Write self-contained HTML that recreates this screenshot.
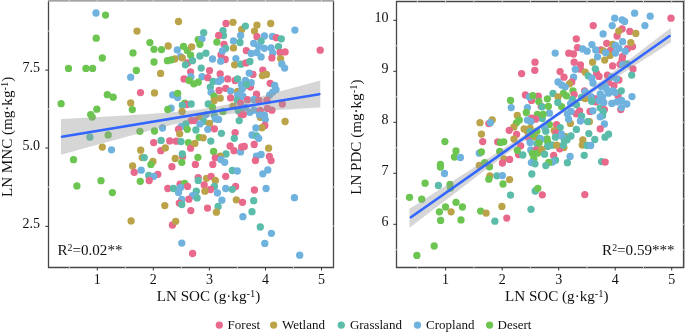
<!DOCTYPE html>
<html><head><meta charset="utf-8"><style>
html,body{margin:0;padding:0;background:#fff;}
body{width:685px;height:333px;overflow:hidden;font-family:"Liberation Serif",serif;}
svg{display:block;will-change:transform;}
</style></head><body>
<svg width="685" height="333" viewBox="0 0 685 333">
<rect width="685" height="333" fill="#fff"/>
<g>
<circle cx="243.8" cy="86.3" r="3.65" fill="#E8698C"/>
<circle cx="250.4" cy="87.1" r="3.65" fill="#E8698C"/>
<circle cx="252.9" cy="74.4" r="3.65" fill="#E8698C"/>
<circle cx="221.0" cy="55.0" r="3.65" fill="#E8698C"/>
<circle cx="96.0" cy="13.0" r="3.65" fill="#6FB2DE"/>
<circle cx="105.5" cy="15.1" r="3.65" fill="#6CC551"/>
<circle cx="137.0" cy="31.1" r="3.65" fill="#BBA34A"/>
<circle cx="96.2" cy="38.2" r="3.65" fill="#6CC551"/>
<circle cx="133.0" cy="52.9" r="3.65" fill="#6CC551"/>
<circle cx="102.3" cy="58.0" r="3.65" fill="#6CC551"/>
<circle cx="68.5" cy="68.4" r="3.65" fill="#6CC551"/>
<circle cx="85.9" cy="68.4" r="3.65" fill="#6CC551"/>
<circle cx="92.6" cy="68.4" r="3.65" fill="#6CC551"/>
<circle cx="136.3" cy="70.5" r="3.65" fill="#6CC551"/>
<circle cx="130.7" cy="77.2" r="3.65" fill="#6FB2DE"/>
<circle cx="140.5" cy="92.6" r="3.65" fill="#E8698C"/>
<circle cx="107.3" cy="94.7" r="3.65" fill="#6CC551"/>
<circle cx="113.2" cy="97.2" r="3.65" fill="#6CC551"/>
<circle cx="61.1" cy="103.7" r="3.65" fill="#6CC551"/>
<circle cx="130.7" cy="102.9" r="3.65" fill="#BBA34A"/>
<circle cx="96.8" cy="109.2" r="3.65" fill="#6CC551"/>
<circle cx="132.3" cy="109.6" r="3.65" fill="#6CC551"/>
<circle cx="90.7" cy="114.6" r="3.65" fill="#6CC551"/>
<circle cx="92.2" cy="117.1" r="3.65" fill="#6CC551"/>
<circle cx="89.9" cy="137.2" r="3.65" fill="#5BBCA9"/>
<circle cx="108.2" cy="134.9" r="3.65" fill="#6CC551"/>
<circle cx="139.9" cy="131.3" r="3.65" fill="#6CC551"/>
<circle cx="102.3" cy="147.1" r="3.65" fill="#BBA34A"/>
<circle cx="111.5" cy="149.8" r="3.65" fill="#6FB2DE"/>
<circle cx="73.5" cy="159.7" r="3.65" fill="#6CC551"/>
<circle cx="140.7" cy="150.2" r="3.65" fill="#BBA34A"/>
<circle cx="142.2" cy="157.6" r="3.65" fill="#BBA34A"/>
<circle cx="144.3" cy="157.6" r="3.65" fill="#5BBCA9"/>
<circle cx="132.6" cy="166.0" r="3.65" fill="#BBA34A"/>
<circle cx="134.2" cy="172.3" r="3.65" fill="#E8698C"/>
<circle cx="141.2" cy="170.2" r="3.65" fill="#6FB2DE"/>
<circle cx="101.0" cy="180.7" r="3.65" fill="#6CC551"/>
<circle cx="76.9" cy="185.9" r="3.65" fill="#6CC551"/>
<circle cx="140.3" cy="181.3" r="3.65" fill="#6CC551"/>
<circle cx="112.4" cy="192.6" r="3.65" fill="#6CC551"/>
<circle cx="131.1" cy="220.9" r="3.65" fill="#BBA34A"/>
<circle cx="178.5" cy="21.5" r="3.65" fill="#BBA34A"/>
<circle cx="149.9" cy="42.6" r="3.65" fill="#6CC551"/>
<circle cx="154.0" cy="49.3" r="3.65" fill="#6CC551"/>
<circle cx="161.5" cy="49.6" r="3.65" fill="#6CC551"/>
<circle cx="168.2" cy="46.0" r="3.65" fill="#BBA34A"/>
<circle cx="177.3" cy="49.9" r="3.65" fill="#6FB2DE"/>
<circle cx="183.5" cy="46.3" r="3.65" fill="#6CC551"/>
<circle cx="187.3" cy="50.4" r="3.65" fill="#6CC551"/>
<circle cx="191.7" cy="46.8" r="3.65" fill="#BBA34A"/>
<circle cx="180.6" cy="56.6" r="3.65" fill="#6FB2DE"/>
<circle cx="182.3" cy="57.9" r="3.65" fill="#BBA34A"/>
<circle cx="174.7" cy="59.0" r="3.65" fill="#BBA34A"/>
<circle cx="171.1" cy="59.9" r="3.65" fill="#6CC551"/>
<circle cx="167.4" cy="60.7" r="3.65" fill="#6CC551"/>
<circle cx="154.0" cy="62.0" r="3.65" fill="#6CC551"/>
<circle cx="187.6" cy="62.9" r="3.65" fill="#E8698C"/>
<circle cx="185.4" cy="64.8" r="3.65" fill="#5BBCA9"/>
<circle cx="190.6" cy="55.2" r="3.65" fill="#6CC551"/>
<circle cx="192.5" cy="60.7" r="3.65" fill="#5BBCA9"/>
<circle cx="160.6" cy="73.4" r="3.65" fill="#BBA34A"/>
<circle cx="190.6" cy="71.8" r="3.65" fill="#E8698C"/>
<circle cx="184.0" cy="78.9" r="3.65" fill="#E8698C"/>
<circle cx="190.9" cy="76.7" r="3.65" fill="#6FB2DE"/>
<circle cx="189.2" cy="80.5" r="3.65" fill="#6CC551"/>
<circle cx="154.5" cy="92.9" r="3.65" fill="#BBA34A"/>
<circle cx="172.7" cy="94.9" r="3.65" fill="#6FB2DE"/>
<circle cx="177.7" cy="97.5" r="3.65" fill="#6FB2DE"/>
<circle cx="177.7" cy="93.3" r="3.65" fill="#6CC551"/>
<circle cx="184.8" cy="103.2" r="3.65" fill="#6CC551"/>
<circle cx="186.8" cy="104.5" r="3.65" fill="#E8698C"/>
<circle cx="182.3" cy="105.2" r="3.65" fill="#5BBCA9"/>
<circle cx="191.2" cy="104.0" r="3.65" fill="#5BBCA9"/>
<circle cx="171.1" cy="108.2" r="3.65" fill="#6FB2DE"/>
<circle cx="167.8" cy="109.5" r="3.65" fill="#6CC551"/>
<circle cx="182.1" cy="111.5" r="3.65" fill="#BBA34A"/>
<circle cx="191.2" cy="120.6" r="3.65" fill="#E8698C"/>
<circle cx="154.5" cy="131.0" r="3.65" fill="#6CC551"/>
<circle cx="162.5" cy="128.0" r="3.65" fill="#6FB2DE"/>
<circle cx="181.3" cy="126.4" r="3.65" fill="#6FB2DE"/>
<circle cx="185.9" cy="123.9" r="3.65" fill="#5BBCA9"/>
<circle cx="178.5" cy="129.2" r="3.65" fill="#E8698C"/>
<circle cx="187.3" cy="129.3" r="3.65" fill="#6CC551"/>
<circle cx="179.7" cy="133.8" r="3.65" fill="#BBA34A"/>
<circle cx="153.7" cy="142.6" r="3.65" fill="#E8698C"/>
<circle cx="161.1" cy="140.4" r="3.65" fill="#5BBCA9"/>
<circle cx="169.7" cy="140.9" r="3.65" fill="#E8698C"/>
<circle cx="176.3" cy="141.2" r="3.65" fill="#E8698C"/>
<circle cx="181.0" cy="141.6" r="3.65" fill="#5BBCA9"/>
<circle cx="188.4" cy="142.6" r="3.65" fill="#6CC551"/>
<circle cx="190.6" cy="148.2" r="3.65" fill="#E8698C"/>
<circle cx="160.8" cy="150.7" r="3.65" fill="#E8698C"/>
<circle cx="165.3" cy="147.9" r="3.65" fill="#BBA34A"/>
<circle cx="152.9" cy="161.4" r="3.65" fill="#BBA34A"/>
<circle cx="150.9" cy="164.4" r="3.65" fill="#6CC551"/>
<circle cx="175.2" cy="158.5" r="3.65" fill="#BBA34A"/>
<circle cx="182.6" cy="156.5" r="3.65" fill="#E8698C"/>
<circle cx="182.3" cy="154.0" r="3.65" fill="#5BBCA9"/>
<circle cx="181.8" cy="162.3" r="3.65" fill="#6CC551"/>
<circle cx="171.9" cy="166.7" r="3.65" fill="#E8698C"/>
<circle cx="148.7" cy="175.5" r="3.65" fill="#5BBCA9"/>
<circle cx="157.8" cy="174.3" r="3.65" fill="#E8698C"/>
<circle cx="153.7" cy="176.3" r="3.65" fill="#6FB2DE"/>
<circle cx="149.2" cy="180.5" r="3.65" fill="#E8698C"/>
<circle cx="167.8" cy="188.5" r="3.65" fill="#E8698C"/>
<circle cx="173.5" cy="188.5" r="3.65" fill="#5BBCA9"/>
<circle cx="180.1" cy="184.2" r="3.65" fill="#E8698C"/>
<circle cx="184.6" cy="183.4" r="3.65" fill="#6CC551"/>
<circle cx="180.6" cy="187.5" r="3.65" fill="#6FB2DE"/>
<circle cx="187.6" cy="186.4" r="3.65" fill="#E8698C"/>
<circle cx="178.5" cy="192.4" r="3.65" fill="#6FB2DE"/>
<circle cx="192.5" cy="195.7" r="3.65" fill="#6FB2DE"/>
<circle cx="181.8" cy="199.5" r="3.65" fill="#6FB2DE"/>
<circle cx="188.9" cy="199.2" r="3.65" fill="#E8698C"/>
<circle cx="179.3" cy="203.1" r="3.65" fill="#E8698C"/>
<circle cx="181.8" cy="204.5" r="3.65" fill="#5BBCA9"/>
<circle cx="190.8" cy="210.6" r="3.65" fill="#E8698C"/>
<circle cx="164.8" cy="205.6" r="3.65" fill="#BBA34A"/>
<circle cx="172.4" cy="225.0" r="3.65" fill="#E8698C"/>
<circle cx="175.7" cy="221.3" r="3.65" fill="#BBA34A"/>
<circle cx="181.8" cy="243.1" r="3.65" fill="#6FB2DE"/>
<circle cx="192.6" cy="253.5" r="3.65" fill="#E8698C"/>
<circle cx="226.0" cy="23.5" r="3.65" fill="#E8698C"/>
<circle cx="233.0" cy="22.3" r="3.65" fill="#BBA34A"/>
<circle cx="203.7" cy="32.7" r="3.65" fill="#5BBCA9"/>
<circle cx="223.0" cy="30.6" r="3.65" fill="#5BBCA9"/>
<circle cx="223.5" cy="35.5" r="3.65" fill="#5BBCA9"/>
<circle cx="218.6" cy="35.5" r="3.65" fill="#E8698C"/>
<circle cx="241.7" cy="29.4" r="3.65" fill="#BBA34A"/>
<circle cx="240.6" cy="35.5" r="3.65" fill="#6FB2DE"/>
<circle cx="198.2" cy="39.7" r="3.65" fill="#6CC551"/>
<circle cx="202.0" cy="38.8" r="3.65" fill="#6FB2DE"/>
<circle cx="199.9" cy="44.3" r="3.65" fill="#6CC551"/>
<circle cx="216.9" cy="42.1" r="3.65" fill="#6CC551"/>
<circle cx="224.0" cy="44.3" r="3.65" fill="#E8698C"/>
<circle cx="233.5" cy="41.0" r="3.65" fill="#6FB2DE"/>
<circle cx="240.0" cy="42.5" r="3.65" fill="#5BBCA9"/>
<circle cx="225.7" cy="48.3" r="3.65" fill="#5BBCA9"/>
<circle cx="233.5" cy="47.9" r="3.65" fill="#BBA34A"/>
<circle cx="222.4" cy="50.9" r="3.65" fill="#6FB2DE"/>
<circle cx="205.9" cy="53.2" r="3.65" fill="#5BBCA9"/>
<circle cx="199.9" cy="56.0" r="3.65" fill="#5BBCA9"/>
<circle cx="212.5" cy="59.0" r="3.65" fill="#6FB2DE"/>
<circle cx="225.2" cy="59.5" r="3.65" fill="#E8698C"/>
<circle cx="220.7" cy="61.2" r="3.65" fill="#6FB2DE"/>
<circle cx="235.9" cy="58.6" r="3.65" fill="#6FB2DE"/>
<circle cx="234.6" cy="64.8" r="3.65" fill="#BBA34A"/>
<circle cx="240.9" cy="64.2" r="3.65" fill="#5BBCA9"/>
<circle cx="201.2" cy="68.1" r="3.65" fill="#5BBCA9"/>
<circle cx="209.5" cy="70.6" r="3.65" fill="#E8698C"/>
<circle cx="220.2" cy="73.9" r="3.65" fill="#E8698C"/>
<circle cx="202.0" cy="76.7" r="3.65" fill="#6FB2DE"/>
<circle cx="207.8" cy="77.7" r="3.65" fill="#E8698C"/>
<circle cx="193.8" cy="83.8" r="3.65" fill="#6CC551"/>
<circle cx="198.2" cy="82.2" r="3.65" fill="#6CC551"/>
<circle cx="213.1" cy="81.4" r="3.65" fill="#5BBCA9"/>
<circle cx="221.0" cy="79.7" r="3.65" fill="#6FB2DE"/>
<circle cx="218.6" cy="81.4" r="3.65" fill="#6FB2DE"/>
<circle cx="227.7" cy="78.9" r="3.65" fill="#E8698C"/>
<circle cx="235.1" cy="80.5" r="3.65" fill="#E8698C"/>
<circle cx="237.6" cy="78.9" r="3.65" fill="#5BBCA9"/>
<circle cx="241.5" cy="84.7" r="3.65" fill="#6FB2DE"/>
<circle cx="210.3" cy="87.1" r="3.65" fill="#5BBCA9"/>
<circle cx="211.1" cy="92.3" r="3.65" fill="#6FB2DE"/>
<circle cx="219.1" cy="90.4" r="3.65" fill="#E8698C"/>
<circle cx="225.7" cy="88.3" r="3.65" fill="#E8698C"/>
<circle cx="230.6" cy="91.1" r="3.65" fill="#6FB2DE"/>
<circle cx="237.6" cy="91.3" r="3.65" fill="#BBA34A"/>
<circle cx="237.6" cy="94.8" r="3.65" fill="#6FB2DE"/>
<circle cx="214.1" cy="96.2" r="3.65" fill="#6CC551"/>
<circle cx="220.2" cy="98.2" r="3.65" fill="#BBA34A"/>
<circle cx="230.6" cy="97.9" r="3.65" fill="#E8698C"/>
<circle cx="214.1" cy="100.7" r="3.65" fill="#BBA34A"/>
<circle cx="237.3" cy="100.2" r="3.65" fill="#5BBCA9"/>
<circle cx="240.6" cy="103.2" r="3.65" fill="#E8698C"/>
<circle cx="208.2" cy="104.0" r="3.65" fill="#5BBCA9"/>
<circle cx="212.5" cy="107.4" r="3.65" fill="#6CC551"/>
<circle cx="233.0" cy="106.2" r="3.65" fill="#BBA34A"/>
<circle cx="223.0" cy="111.5" r="3.65" fill="#6CC551"/>
<circle cx="238.4" cy="110.7" r="3.65" fill="#5BBCA9"/>
<circle cx="241.2" cy="114.5" r="3.65" fill="#E8698C"/>
<circle cx="205.9" cy="114.8" r="3.65" fill="#6FB2DE"/>
<circle cx="199.2" cy="116.4" r="3.65" fill="#BBA34A"/>
<circle cx="214.4" cy="115.6" r="3.65" fill="#5BBCA9"/>
<circle cx="215.3" cy="118.9" r="3.65" fill="#6FB2DE"/>
<circle cx="218.6" cy="119.4" r="3.65" fill="#6FB2DE"/>
<circle cx="194.6" cy="120.6" r="3.65" fill="#E8698C"/>
<circle cx="203.7" cy="121.4" r="3.65" fill="#5BBCA9"/>
<circle cx="199.9" cy="123.9" r="3.65" fill="#6FB2DE"/>
<circle cx="209.5" cy="123.4" r="3.65" fill="#BBA34A"/>
<circle cx="239.2" cy="120.6" r="3.65" fill="#5BBCA9"/>
<circle cx="195.9" cy="130.0" r="3.65" fill="#5BBCA9"/>
<circle cx="207.8" cy="129.3" r="3.65" fill="#6FB2DE"/>
<circle cx="214.4" cy="128.8" r="3.65" fill="#E8698C"/>
<circle cx="221.4" cy="133.3" r="3.65" fill="#5BBCA9"/>
<circle cx="235.1" cy="132.6" r="3.65" fill="#E8698C"/>
<circle cx="234.3" cy="138.3" r="3.65" fill="#5BBCA9"/>
<circle cx="199.2" cy="137.3" r="3.65" fill="#6CC551"/>
<circle cx="203.2" cy="137.8" r="3.65" fill="#BBA34A"/>
<circle cx="210.8" cy="141.1" r="3.65" fill="#5BBCA9"/>
<circle cx="194.9" cy="143.4" r="3.65" fill="#BBA34A"/>
<circle cx="230.1" cy="146.0" r="3.65" fill="#E8698C"/>
<circle cx="234.0" cy="150.7" r="3.65" fill="#E8698C"/>
<circle cx="240.6" cy="151.9" r="3.65" fill="#6FB2DE"/>
<circle cx="241.7" cy="146.9" r="3.65" fill="#E8698C"/>
<circle cx="213.6" cy="151.5" r="3.65" fill="#6CC551"/>
<circle cx="226.0" cy="154.0" r="3.65" fill="#5BBCA9"/>
<circle cx="220.2" cy="156.2" r="3.65" fill="#BBA34A"/>
<circle cx="215.3" cy="157.8" r="3.65" fill="#E8698C"/>
<circle cx="221.0" cy="159.5" r="3.65" fill="#6FB2DE"/>
<circle cx="224.7" cy="162.3" r="3.65" fill="#6FB2DE"/>
<circle cx="197.9" cy="157.3" r="3.65" fill="#6CC551"/>
<circle cx="195.4" cy="164.4" r="3.65" fill="#E8698C"/>
<circle cx="212.8" cy="164.4" r="3.65" fill="#E8698C"/>
<circle cx="232.3" cy="170.5" r="3.65" fill="#5BBCA9"/>
<circle cx="237.3" cy="171.0" r="3.65" fill="#6FB2DE"/>
<circle cx="225.7" cy="176.3" r="3.65" fill="#E8698C"/>
<circle cx="198.2" cy="177.6" r="3.65" fill="#E8698C"/>
<circle cx="198.2" cy="180.4" r="3.65" fill="#5BBCA9"/>
<circle cx="206.5" cy="178.3" r="3.65" fill="#BBA34A"/>
<circle cx="211.1" cy="176.3" r="3.65" fill="#E8698C"/>
<circle cx="215.3" cy="180.4" r="3.65" fill="#BBA34A"/>
<circle cx="204.2" cy="184.9" r="3.65" fill="#E8698C"/>
<circle cx="214.4" cy="186.4" r="3.65" fill="#5BBCA9"/>
<circle cx="210.5" cy="189.5" r="3.65" fill="#E8698C"/>
<circle cx="225.7" cy="188.5" r="3.65" fill="#6FB2DE"/>
<circle cx="235.6" cy="186.5" r="3.65" fill="#E8698C"/>
<circle cx="232.3" cy="189.3" r="3.65" fill="#5BBCA9"/>
<circle cx="204.9" cy="191.2" r="3.65" fill="#BBA34A"/>
<circle cx="217.4" cy="192.9" r="3.65" fill="#6FB2DE"/>
<circle cx="196.3" cy="191.2" r="3.65" fill="#5BBCA9"/>
<circle cx="194.9" cy="195.7" r="3.65" fill="#6FB2DE"/>
<circle cx="197.1" cy="197.9" r="3.65" fill="#5BBCA9"/>
<circle cx="221.9" cy="200.2" r="3.65" fill="#6FB2DE"/>
<circle cx="236.3" cy="199.8" r="3.65" fill="#BBA34A"/>
<circle cx="242.5" cy="202.3" r="3.65" fill="#E8698C"/>
<circle cx="218.1" cy="206.4" r="3.65" fill="#5BBCA9"/>
<circle cx="207.5" cy="208.1" r="3.65" fill="#E8698C"/>
<circle cx="216.4" cy="212.2" r="3.65" fill="#BBA34A"/>
<circle cx="242.9" cy="216.7" r="3.65" fill="#6FB2DE"/>
<circle cx="245.4" cy="26.1" r="3.65" fill="#5BBCA9"/>
<circle cx="257.0" cy="25.1" r="3.65" fill="#BBA34A"/>
<circle cx="254.5" cy="31.1" r="3.65" fill="#BBA34A"/>
<circle cx="270.7" cy="23.5" r="3.65" fill="#BBA34A"/>
<circle cx="257.0" cy="36.7" r="3.65" fill="#E8698C"/>
<circle cx="264.4" cy="36.0" r="3.65" fill="#6FB2DE"/>
<circle cx="272.4" cy="36.4" r="3.65" fill="#6FB2DE"/>
<circle cx="276.3" cy="37.7" r="3.65" fill="#E8698C"/>
<circle cx="281.3" cy="38.8" r="3.65" fill="#5BBCA9"/>
<circle cx="261.1" cy="41.3" r="3.65" fill="#5BBCA9"/>
<circle cx="253.7" cy="43.3" r="3.65" fill="#6FB2DE"/>
<circle cx="258.7" cy="46.3" r="3.65" fill="#6FB2DE"/>
<circle cx="264.4" cy="48.3" r="3.65" fill="#6FB2DE"/>
<circle cx="271.1" cy="47.9" r="3.65" fill="#6FB2DE"/>
<circle cx="278.5" cy="46.6" r="3.65" fill="#5BBCA9"/>
<circle cx="246.3" cy="50.6" r="3.65" fill="#E8698C"/>
<circle cx="251.2" cy="53.4" r="3.65" fill="#6FB2DE"/>
<circle cx="257.0" cy="52.5" r="3.65" fill="#6FB2DE"/>
<circle cx="272.7" cy="53.0" r="3.65" fill="#6FB2DE"/>
<circle cx="280.1" cy="52.5" r="3.65" fill="#E8698C"/>
<circle cx="285.1" cy="51.9" r="3.65" fill="#E8698C"/>
<circle cx="261.1" cy="56.9" r="3.65" fill="#6FB2DE"/>
<circle cx="271.9" cy="57.9" r="3.65" fill="#E8698C"/>
<circle cx="280.6" cy="58.6" r="3.65" fill="#BBA34A"/>
<circle cx="281.8" cy="64.0" r="3.65" fill="#6FB2DE"/>
<circle cx="284.6" cy="68.1" r="3.65" fill="#6FB2DE"/>
<circle cx="245.9" cy="62.9" r="3.65" fill="#E8698C"/>
<circle cx="249.9" cy="61.5" r="3.65" fill="#5BBCA9"/>
<circle cx="262.8" cy="70.1" r="3.65" fill="#E8698C"/>
<circle cx="262.5" cy="75.6" r="3.65" fill="#BBA34A"/>
<circle cx="266.4" cy="74.4" r="3.65" fill="#BBA34A"/>
<circle cx="249.2" cy="73.1" r="3.65" fill="#6FB2DE"/>
<circle cx="245.4" cy="80.5" r="3.65" fill="#6FB2DE"/>
<circle cx="251.2" cy="82.7" r="3.65" fill="#6FB2DE"/>
<circle cx="246.3" cy="84.7" r="3.65" fill="#5BBCA9"/>
<circle cx="242.1" cy="89.3" r="3.65" fill="#6FB2DE"/>
<circle cx="270.2" cy="83.3" r="3.65" fill="#E8698C"/>
<circle cx="274.7" cy="85.5" r="3.65" fill="#6FB2DE"/>
<circle cx="276.0" cy="89.6" r="3.65" fill="#6FB2DE"/>
<circle cx="272.7" cy="92.1" r="3.65" fill="#6FB2DE"/>
<circle cx="269.6" cy="95.1" r="3.65" fill="#6FB2DE"/>
<circle cx="256.5" cy="94.2" r="3.65" fill="#E8698C"/>
<circle cx="243.0" cy="96.4" r="3.65" fill="#6FB2DE"/>
<circle cx="247.5" cy="99.7" r="3.65" fill="#E8698C"/>
<circle cx="254.0" cy="99.5" r="3.65" fill="#6FB2DE"/>
<circle cx="259.0" cy="100.5" r="3.65" fill="#E8698C"/>
<circle cx="266.9" cy="100.2" r="3.65" fill="#E8698C"/>
<circle cx="282.3" cy="104.0" r="3.65" fill="#E8698C"/>
<circle cx="239.7" cy="109.8" r="3.65" fill="#5BBCA9"/>
<circle cx="245.4" cy="107.4" r="3.65" fill="#6FB2DE"/>
<circle cx="249.9" cy="112.3" r="3.65" fill="#6FB2DE"/>
<circle cx="254.2" cy="110.2" r="3.65" fill="#6FB2DE"/>
<circle cx="260.3" cy="110.7" r="3.65" fill="#E8698C"/>
<circle cx="267.4" cy="108.5" r="3.65" fill="#E8698C"/>
<circle cx="271.9" cy="110.2" r="3.65" fill="#E8698C"/>
<circle cx="243.3" cy="114.5" r="3.65" fill="#E8698C"/>
<circle cx="260.3" cy="117.3" r="3.65" fill="#BBA34A"/>
<circle cx="259.5" cy="114.8" r="3.65" fill="#6FB2DE"/>
<circle cx="264.4" cy="115.1" r="3.65" fill="#6FB2DE"/>
<circle cx="265.3" cy="119.4" r="3.65" fill="#6FB2DE"/>
<circle cx="285.1" cy="121.5" r="3.65" fill="#BBA34A"/>
<circle cx="264.8" cy="125.5" r="3.65" fill="#E8698C"/>
<circle cx="262.0" cy="127.7" r="3.65" fill="#BBA34A"/>
<circle cx="255.9" cy="128.0" r="3.65" fill="#6FB2DE"/>
<circle cx="252.0" cy="135.0" r="3.65" fill="#6FB2DE"/>
<circle cx="256.5" cy="136.0" r="3.65" fill="#5BBCA9"/>
<circle cx="258.7" cy="138.3" r="3.65" fill="#6FB2DE"/>
<circle cx="254.2" cy="144.5" r="3.65" fill="#E8698C"/>
<circle cx="244.3" cy="146.5" r="3.65" fill="#E8698C"/>
<circle cx="268.6" cy="148.2" r="3.65" fill="#BBA34A"/>
<circle cx="256.5" cy="156.2" r="3.65" fill="#6FB2DE"/>
<circle cx="261.1" cy="154.5" r="3.65" fill="#6FB2DE"/>
<circle cx="255.4" cy="160.6" r="3.65" fill="#E8698C"/>
<circle cx="269.4" cy="156.5" r="3.65" fill="#E8698C"/>
<circle cx="271.1" cy="160.6" r="3.65" fill="#E8698C"/>
<circle cx="262.8" cy="173.8" r="3.65" fill="#6FB2DE"/>
<circle cx="267.8" cy="170.0" r="3.65" fill="#6FB2DE"/>
<circle cx="254.4" cy="190.0" r="3.65" fill="#E8698C"/>
<circle cx="266.1" cy="188.5" r="3.65" fill="#6FB2DE"/>
<circle cx="253.7" cy="200.7" r="3.65" fill="#5BBCA9"/>
<circle cx="252.0" cy="211.7" r="3.65" fill="#5BBCA9"/>
<circle cx="260.3" cy="227.0" r="3.65" fill="#5BBCA9"/>
<circle cx="271.4" cy="233.3" r="3.65" fill="#6FB2DE"/>
<circle cx="264.8" cy="243.4" r="3.65" fill="#6FB2DE"/>
<circle cx="294.9" cy="30.1" r="3.65" fill="#6FB2DE"/>
<circle cx="320.2" cy="50.2" r="3.65" fill="#E8698C"/>
<circle cx="294.4" cy="197.7" r="3.65" fill="#6FB2DE"/>
<circle cx="299.7" cy="255.2" r="3.65" fill="#6FB2DE"/>
<path d="M61.00,119.05 L67.48,118.70 L73.97,118.35 L80.45,118.00 L86.93,117.64 L93.41,117.28 L99.90,116.92 L106.38,116.55 L112.86,116.18 L119.34,115.80 L125.83,115.42 L132.31,115.02 L138.79,114.61 L145.27,114.19 L151.75,113.75 L158.24,113.29 L164.72,112.81 L171.20,112.29 L177.69,111.72 L184.17,111.10 L190.65,110.41 L197.13,109.63 L203.62,108.74 L210.10,107.73 L216.58,106.60 L223.06,105.35 L229.55,103.99 L236.03,102.55 L242.51,101.03 L248.99,99.45 L255.47,97.83 L261.96,96.17 L268.44,94.49 L274.92,92.78 L281.41,91.06 L287.89,89.32 L294.37,87.57 L300.85,85.82 L307.33,84.05 L313.82,82.28 L320.30,80.50 L320.30,107.50 L313.82,107.87 L307.33,108.24 L300.85,108.62 L294.37,109.01 L287.89,109.40 L281.41,109.81 L274.92,110.23 L268.44,110.67 L261.96,111.13 L255.47,111.62 L248.99,112.15 L242.51,112.71 L236.03,113.34 L229.55,114.04 L223.06,114.82 L216.58,115.72 L210.10,116.73 L203.62,117.87 L197.13,119.13 L190.65,120.49 L184.17,121.94 L177.69,123.47 L171.20,125.05 L164.72,126.67 L158.24,128.33 L151.75,130.02 L145.27,131.72 L138.79,133.45 L132.31,135.19 L125.83,136.93 L119.34,138.69 L112.86,140.46 L106.38,142.23 L99.90,144.01 L93.41,145.79 L86.93,147.58 L80.45,149.37 L73.97,151.16 L67.48,152.95 L61.00,154.75 Z" fill="#999" fill-opacity="0.4"/>
<line x1="62" y1="136.73" x2="319.3" y2="94.17" stroke="#3366FF" stroke-width="2.6" stroke-linecap="round"/>
<path d="M48.5,1 V267.5 H333.5 V1" fill="none" stroke="#474747" stroke-width="1.3"/>
<rect x="48" y="0" width="286" height="1.7" fill="#a4a4a4"/>
<rect x="68.8" y="0" width="1" height="1.7" fill="#d8d8d8"/>
<rect x="96.8" y="0" width="1" height="1.7" fill="#d8d8d8"/>
<rect x="124.8" y="0" width="1" height="1.7" fill="#d8d8d8"/>
<rect x="152.8" y="0" width="1" height="1.7" fill="#d8d8d8"/>
<rect x="180.9" y="0" width="1" height="1.7" fill="#d8d8d8"/>
<rect x="208.9" y="0" width="1" height="1.7" fill="#d8d8d8"/>
<rect x="236.9" y="0" width="1" height="1.7" fill="#d8d8d8"/>
<rect x="265.0" y="0" width="1" height="1.7" fill="#d8d8d8"/>
<rect x="293.0" y="0" width="1" height="1.7" fill="#d8d8d8"/>
<rect x="321.0" y="0" width="1" height="1.7" fill="#d8d8d8"/>
<line x1="45.3" y1="70.1" x2="48.5" y2="70.1" stroke="#333" stroke-width="1"/>
<text x="40" y="71.8" text-anchor="end" font-size="14" style="font-family:'Liberation Serif',serif" fill="#111">7.5</text>
<line x1="45.3" y1="148" x2="48.5" y2="148" stroke="#333" stroke-width="1"/>
<text x="40" y="149.7" text-anchor="end" font-size="14" style="font-family:'Liberation Serif',serif" fill="#111">5.0</text>
<line x1="45.3" y1="226.4" x2="48.5" y2="226.4" stroke="#333" stroke-width="1"/>
<text x="40" y="228.1" text-anchor="end" font-size="14" style="font-family:'Liberation Serif',serif" fill="#111">2.5</text>
<line x1="97.3" y1="267.5" x2="97.3" y2="270.5" stroke="#333" stroke-width="1"/>
<text x="97.3" y="283.5" text-anchor="middle" font-size="14" style="font-family:'Liberation Serif',serif" fill="#111">1</text>
<line x1="153.3" y1="267.5" x2="153.3" y2="270.5" stroke="#333" stroke-width="1"/>
<text x="153.3" y="283.5" text-anchor="middle" font-size="14" style="font-family:'Liberation Serif',serif" fill="#111">2</text>
<line x1="209.4" y1="267.5" x2="209.4" y2="270.5" stroke="#333" stroke-width="1"/>
<text x="209.4" y="283.5" text-anchor="middle" font-size="14" style="font-family:'Liberation Serif',serif" fill="#111">3</text>
<line x1="265.5" y1="267.5" x2="265.5" y2="270.5" stroke="#333" stroke-width="1"/>
<text x="265.5" y="283.5" text-anchor="middle" font-size="14" style="font-family:'Liberation Serif',serif" fill="#111">4</text>
<line x1="321.5" y1="267.5" x2="321.5" y2="270.5" stroke="#333" stroke-width="1"/>
<text x="321.5" y="283.5" text-anchor="middle" font-size="14" style="font-family:'Liberation Serif',serif" fill="#111">5</text>
<text x="208.5" y="300.7" text-anchor="middle" font-size="15.1" style="font-family:'Liberation Serif',serif" fill="#111">LN SOC (g·kg<tspan font-size="10.5" dy="-4.2">-1</tspan><tspan dy="4.2">)</tspan></text>
<text transform="translate(12,136.9) rotate(-90)" text-anchor="middle" font-size="15.1" style="font-family:'Liberation Serif',serif" fill="#111">LN MNC (mg·kg<tspan font-size="10.5" dy="-4.2">-1</tspan><tspan dy="4.2">)</tspan></text>
<text x="57.5" y="254.9" font-size="15.1" style="font-family:'Liberation Serif',serif" fill="#111">R<tspan font-size="9.8" dy="-4">2</tspan><tspan dy="4">=0.02**</tspan></text>
</g>
<g>
<circle cx="497.7" cy="141.8" r="3.65" fill="#E8698C"/>
<circle cx="518.6" cy="154.6" r="3.65" fill="#E8698C"/>
<circle cx="563.9" cy="147.6" r="3.65" fill="#BBA34A"/>
<circle cx="559.7" cy="148.8" r="3.65" fill="#E8698C"/>
<circle cx="565.5" cy="136.6" r="3.65" fill="#BBA34A"/>
<circle cx="570.4" cy="123.4" r="3.65" fill="#BBA34A"/>
<circle cx="589.4" cy="121.6" r="3.65" fill="#BBA34A"/>
<circle cx="527.5" cy="131.5" r="3.65" fill="#BBA34A"/>
<circle cx="528.5" cy="137.5" r="3.65" fill="#E8698C"/>
<circle cx="596.6" cy="73.4" r="3.65" fill="#E8698C"/>
<circle cx="632.5" cy="46.6" r="3.65" fill="#E8698C"/>
<circle cx="617.1" cy="36.0" r="3.65" fill="#E8698C"/>
<circle cx="606.7" cy="43.3" r="3.65" fill="#E8698C"/>
<circle cx="601.0" cy="49.9" r="3.65" fill="#E8698C"/>
<circle cx="610.5" cy="50.3" r="3.65" fill="#E8698C"/>
<circle cx="627.5" cy="48.7" r="3.65" fill="#E8698C"/>
<circle cx="622.6" cy="56.4" r="3.65" fill="#E8698C"/>
<circle cx="622.1" cy="59.6" r="3.65" fill="#E8698C"/>
<circle cx="612.6" cy="65.9" r="3.65" fill="#E8698C"/>
<circle cx="620.0" cy="64.3" r="3.65" fill="#E8698C"/>
<circle cx="633.0" cy="69.0" r="3.65" fill="#E8698C"/>
<circle cx="580.4" cy="69.2" r="3.65" fill="#E8698C"/>
<circle cx="599.0" cy="76.4" r="3.65" fill="#E8698C"/>
<circle cx="607.4" cy="75.2" r="3.65" fill="#E8698C"/>
<circle cx="618.9" cy="80.0" r="3.65" fill="#E8698C"/>
<circle cx="608.6" cy="82.4" r="3.65" fill="#E8698C"/>
<circle cx="614.0" cy="85.4" r="3.65" fill="#E8698C"/>
<circle cx="584.6" cy="90.8" r="3.65" fill="#E8698C"/>
<circle cx="594.8" cy="98.6" r="3.65" fill="#E8698C"/>
<circle cx="618.0" cy="95.5" r="3.65" fill="#E8698C"/>
<circle cx="538.3" cy="96.2" r="3.65" fill="#E8698C"/>
<circle cx="541.2" cy="106.3" r="3.65" fill="#E8698C"/>
<circle cx="531.5" cy="100.4" r="3.65" fill="#E8698C"/>
<circle cx="634.6" cy="13.2" r="3.65" fill="#6FB2DE"/>
<circle cx="650.2" cy="16.2" r="3.65" fill="#6FB2DE"/>
<circle cx="671.0" cy="18.2" r="3.65" fill="#E8698C"/>
<circle cx="644.9" cy="25.6" r="3.65" fill="#6FB2DE"/>
<circle cx="629.8" cy="31.4" r="3.65" fill="#E8698C"/>
<circle cx="635.8" cy="33.4" r="3.65" fill="#BBA34A"/>
<circle cx="630.8" cy="42.6" r="3.65" fill="#BBA34A"/>
<circle cx="614.7" cy="18.2" r="3.65" fill="#6FB2DE"/>
<circle cx="622.1" cy="19.8" r="3.65" fill="#6FB2DE"/>
<circle cx="624.6" cy="21.5" r="3.65" fill="#6FB2DE"/>
<circle cx="612.2" cy="25.6" r="3.65" fill="#6FB2DE"/>
<circle cx="593.2" cy="25.6" r="3.65" fill="#E8698C"/>
<circle cx="622.1" cy="28.9" r="3.65" fill="#E8698C"/>
<circle cx="618.8" cy="31.1" r="3.65" fill="#BBA34A"/>
<circle cx="603.1" cy="33.9" r="3.65" fill="#6FB2DE"/>
<circle cx="576.3" cy="38.8" r="3.65" fill="#E8698C"/>
<circle cx="612.7" cy="44.3" r="3.65" fill="#BBA34A"/>
<circle cx="577.5" cy="47.6" r="3.65" fill="#E8698C"/>
<circle cx="582.7" cy="48.9" r="3.65" fill="#6FB2DE"/>
<circle cx="603.5" cy="50.8" r="3.65" fill="#BBA34A"/>
<circle cx="555.2" cy="53.1" r="3.65" fill="#6FB2DE"/>
<circle cx="568.8" cy="53.2" r="3.65" fill="#E8698C"/>
<circle cx="573.5" cy="54.0" r="3.65" fill="#E8698C"/>
<circle cx="610.0" cy="55.4" r="3.65" fill="#BBA34A"/>
<circle cx="604.7" cy="60.1" r="3.65" fill="#BBA34A"/>
<circle cx="627.3" cy="63.8" r="3.65" fill="#5BBCA9"/>
<circle cx="631.7" cy="75.1" r="3.65" fill="#5BBCA9"/>
<circle cx="592.6" cy="62.2" r="3.65" fill="#BBA34A"/>
<circle cx="574.2" cy="62.2" r="3.65" fill="#E8698C"/>
<circle cx="580.5" cy="64.8" r="3.65" fill="#E8698C"/>
<circle cx="575.3" cy="69.3" r="3.65" fill="#6FB2DE"/>
<circle cx="560.1" cy="71.6" r="3.65" fill="#E8698C"/>
<circle cx="535.0" cy="62.2" r="3.65" fill="#E8698C"/>
<circle cx="534.8" cy="70.3" r="3.65" fill="#E8698C"/>
<circle cx="521.6" cy="73.6" r="3.65" fill="#E8698C"/>
<circle cx="564.0" cy="77.2" r="3.65" fill="#E8698C"/>
<circle cx="573.6" cy="77.2" r="3.65" fill="#6FB2DE"/>
<circle cx="571.8" cy="82.0" r="3.65" fill="#E8698C"/>
<circle cx="569.4" cy="83.8" r="3.65" fill="#BBA34A"/>
<circle cx="558.0" cy="82.0" r="3.65" fill="#6FB2DE"/>
<circle cx="561.6" cy="85.0" r="3.65" fill="#6FB2DE"/>
<circle cx="565.2" cy="86.8" r="3.65" fill="#6FB2DE"/>
<circle cx="573.0" cy="91.0" r="3.65" fill="#6CC551"/>
<circle cx="574.2" cy="94.6" r="3.65" fill="#E8698C"/>
<circle cx="553.0" cy="93.4" r="3.65" fill="#5BBCA9"/>
<circle cx="563.4" cy="93.4" r="3.65" fill="#6CC551"/>
<circle cx="566.4" cy="95.8" r="3.65" fill="#6CC551"/>
<circle cx="558.0" cy="97.0" r="3.65" fill="#BBA34A"/>
<circle cx="547.4" cy="98.8" r="3.65" fill="#6CC551"/>
<circle cx="572.4" cy="99.4" r="3.65" fill="#5BBCA9"/>
<circle cx="632.0" cy="96.6" r="3.65" fill="#6FB2DE"/>
<circle cx="525.4" cy="95.0" r="3.65" fill="#E8698C"/>
<circle cx="529.5" cy="97.0" r="3.65" fill="#6FB2DE"/>
<circle cx="532.8" cy="95.7" r="3.65" fill="#6CC551"/>
<circle cx="510.5" cy="100.4" r="3.65" fill="#6CC551"/>
<circle cx="620.8" cy="109.5" r="3.65" fill="#E8698C"/>
<circle cx="611.8" cy="103.4" r="3.65" fill="#6FB2DE"/>
<circle cx="616.8" cy="101.8" r="3.65" fill="#6FB2DE"/>
<circle cx="621.6" cy="100.4" r="3.65" fill="#6FB2DE"/>
<circle cx="626.8" cy="104.0" r="3.65" fill="#6FB2DE"/>
<circle cx="621.4" cy="107.6" r="3.65" fill="#6FB2DE"/>
<circle cx="570.6" cy="103.6" r="3.65" fill="#6FB2DE"/>
<circle cx="561.6" cy="106.6" r="3.65" fill="#6CC551"/>
<circle cx="576.5" cy="104.8" r="3.65" fill="#5BBCA9"/>
<circle cx="579.6" cy="111.0" r="3.65" fill="#E8698C"/>
<circle cx="576.2" cy="113.8" r="3.65" fill="#E8698C"/>
<circle cx="590.0" cy="111.4" r="3.65" fill="#E8698C"/>
<circle cx="593.0" cy="110.8" r="3.65" fill="#6FB2DE"/>
<circle cx="600.2" cy="107.8" r="3.65" fill="#5BBCA9"/>
<circle cx="604.4" cy="109.6" r="3.65" fill="#E8698C"/>
<circle cx="603.2" cy="111.4" r="3.65" fill="#5BBCA9"/>
<circle cx="602.6" cy="115.6" r="3.65" fill="#5BBCA9"/>
<circle cx="600.2" cy="116.8" r="3.65" fill="#6FB2DE"/>
<circle cx="581.6" cy="116.2" r="3.65" fill="#5BBCA9"/>
<circle cx="580.4" cy="121.0" r="3.65" fill="#6FB2DE"/>
<circle cx="587.6" cy="121.6" r="3.65" fill="#5BBCA9"/>
<circle cx="604.4" cy="124.0" r="3.65" fill="#6FB2DE"/>
<circle cx="600.2" cy="128.8" r="3.65" fill="#E8698C"/>
<circle cx="576.4" cy="129.4" r="3.65" fill="#5BBCA9"/>
<circle cx="588.8" cy="133.6" r="3.65" fill="#5BBCA9"/>
<circle cx="608.6" cy="134.2" r="3.65" fill="#5BBCA9"/>
<circle cx="605.0" cy="137.2" r="3.65" fill="#5BBCA9"/>
<circle cx="594.8" cy="139.5" r="3.65" fill="#5BBCA9"/>
<circle cx="582.8" cy="140.0" r="3.65" fill="#BBA34A"/>
<circle cx="603.8" cy="102.4" r="3.65" fill="#6FB2DE"/>
<circle cx="591.8" cy="101.2" r="3.65" fill="#5BBCA9"/>
<circle cx="596.0" cy="101.8" r="3.65" fill="#E8698C"/>
<circle cx="557.8" cy="102.4" r="3.65" fill="#5BBCA9"/>
<circle cx="537.4" cy="114.4" r="3.65" fill="#6CC551"/>
<circle cx="549.4" cy="113.2" r="3.65" fill="#6FB2DE"/>
<circle cx="542.2" cy="118.6" r="3.65" fill="#5BBCA9"/>
<circle cx="535.6" cy="119.2" r="3.65" fill="#E8698C"/>
<circle cx="567.4" cy="113.8" r="3.65" fill="#6FB2DE"/>
<circle cx="571.0" cy="111.4" r="3.65" fill="#6FB2DE"/>
<circle cx="568.6" cy="119.2" r="3.65" fill="#6FB2DE"/>
<circle cx="549.4" cy="124.6" r="3.65" fill="#6CC551"/>
<circle cx="556.6" cy="124.6" r="3.65" fill="#E8698C"/>
<circle cx="560.2" cy="127.6" r="3.65" fill="#5BBCA9"/>
<circle cx="544.6" cy="127.6" r="3.65" fill="#6FB2DE"/>
<circle cx="536.8" cy="131.2" r="3.65" fill="#6CC551"/>
<circle cx="545.8" cy="131.2" r="3.65" fill="#5BBCA9"/>
<circle cx="554.2" cy="130.6" r="3.65" fill="#BBA34A"/>
<circle cx="556.0" cy="133.0" r="3.65" fill="#E8698C"/>
<circle cx="561.4" cy="134.2" r="3.65" fill="#6FB2DE"/>
<circle cx="555.4" cy="137.2" r="3.65" fill="#5BBCA9"/>
<circle cx="535.0" cy="137.0" r="3.65" fill="#BBA34A"/>
<circle cx="539.8" cy="138.4" r="3.65" fill="#5BBCA9"/>
<circle cx="547.0" cy="139.0" r="3.65" fill="#6CC551"/>
<circle cx="565.0" cy="138.4" r="3.65" fill="#5BBCA9"/>
<circle cx="571.0" cy="136.0" r="3.65" fill="#5BBCA9"/>
<circle cx="511.2" cy="107.6" r="3.65" fill="#6FB2DE"/>
<circle cx="527.4" cy="107.6" r="3.65" fill="#6FB2DE"/>
<circle cx="517.3" cy="115.5" r="3.65" fill="#BBA34A"/>
<circle cx="519.3" cy="120.1" r="3.65" fill="#6CC551"/>
<circle cx="516.4" cy="122.8" r="3.65" fill="#6CC551"/>
<circle cx="531.5" cy="118.1" r="3.65" fill="#E8698C"/>
<circle cx="527.4" cy="120.1" r="3.65" fill="#6FB2DE"/>
<circle cx="530.8" cy="121.5" r="3.65" fill="#6FB2DE"/>
<circle cx="513.9" cy="126.9" r="3.65" fill="#BBA34A"/>
<circle cx="509.2" cy="130.3" r="3.65" fill="#E8698C"/>
<circle cx="524.1" cy="128.9" r="3.65" fill="#BBA34A"/>
<circle cx="530.1" cy="128.2" r="3.65" fill="#BBA34A"/>
<circle cx="530.1" cy="131.6" r="3.65" fill="#5BBCA9"/>
<circle cx="532.2" cy="134.3" r="3.65" fill="#6CC551"/>
<circle cx="516.6" cy="134.3" r="3.65" fill="#E8698C"/>
<circle cx="513.9" cy="139.1" r="3.65" fill="#BBA34A"/>
<circle cx="480.0" cy="122.7" r="3.65" fill="#BBA34A"/>
<circle cx="492.2" cy="120.0" r="3.65" fill="#BBA34A"/>
<circle cx="488.8" cy="123.6" r="3.65" fill="#E8698C"/>
<circle cx="490.4" cy="122.7" r="3.65" fill="#6FB2DE"/>
<circle cx="481.4" cy="134.1" r="3.65" fill="#BBA34A"/>
<circle cx="444.9" cy="141.6" r="3.65" fill="#6CC551"/>
<circle cx="567.1" cy="139.7" r="3.65" fill="#5BBCA9"/>
<circle cx="500.4" cy="142.4" r="3.65" fill="#6CC551"/>
<circle cx="503.8" cy="141.8" r="3.65" fill="#6CC551"/>
<circle cx="482.7" cy="141.6" r="3.65" fill="#E8698C"/>
<circle cx="530.1" cy="142.4" r="3.65" fill="#6FB2DE"/>
<circle cx="536.9" cy="143.8" r="3.65" fill="#5BBCA9"/>
<circle cx="520.7" cy="145.8" r="3.65" fill="#E8698C"/>
<circle cx="517.3" cy="150.3" r="3.65" fill="#6CC551"/>
<circle cx="499.7" cy="151.5" r="3.65" fill="#6CC551"/>
<circle cx="530.8" cy="149.9" r="3.65" fill="#6FB2DE"/>
<circle cx="536.2" cy="149.9" r="3.65" fill="#E8698C"/>
<circle cx="522.8" cy="155.0" r="3.65" fill="#5BBCA9"/>
<circle cx="532.5" cy="153.4" r="3.65" fill="#6CC551"/>
<circle cx="537.6" cy="153.2" r="3.65" fill="#6CC551"/>
<circle cx="456.0" cy="151.0" r="3.65" fill="#6CC551"/>
<circle cx="454.5" cy="157.0" r="3.65" fill="#6CC551"/>
<circle cx="460.4" cy="157.5" r="3.65" fill="#6FB2DE"/>
<circle cx="479.3" cy="153.2" r="3.65" fill="#6FB2DE"/>
<circle cx="481.4" cy="151.9" r="3.65" fill="#6CC551"/>
<circle cx="479.3" cy="165.4" r="3.65" fill="#BBA34A"/>
<circle cx="484.7" cy="162.7" r="3.65" fill="#6CC551"/>
<circle cx="489.5" cy="166.8" r="3.65" fill="#6CC551"/>
<circle cx="489.9" cy="175.8" r="3.65" fill="#BBA34A"/>
<circle cx="488.8" cy="179.2" r="3.65" fill="#6CC551"/>
<circle cx="496.9" cy="175.8" r="3.65" fill="#5BBCA9"/>
<circle cx="440.4" cy="164.3" r="3.65" fill="#6CC551"/>
<circle cx="440.4" cy="167.0" r="3.65" fill="#6CC551"/>
<circle cx="444.5" cy="173.5" r="3.65" fill="#6FB2DE"/>
<circle cx="425.1" cy="183.2" r="3.65" fill="#6CC551"/>
<circle cx="438.4" cy="185.5" r="3.65" fill="#5BBCA9"/>
<circle cx="450.0" cy="184.5" r="3.65" fill="#6CC551"/>
<circle cx="541.0" cy="139.2" r="3.65" fill="#6FB2DE"/>
<circle cx="539.2" cy="142.8" r="3.65" fill="#6CC551"/>
<circle cx="547.6" cy="141.6" r="3.65" fill="#6CC551"/>
<circle cx="547.6" cy="146.4" r="3.65" fill="#5BBCA9"/>
<circle cx="552.5" cy="145.2" r="3.65" fill="#5BBCA9"/>
<circle cx="556.7" cy="145.2" r="3.65" fill="#BBA34A"/>
<circle cx="562.0" cy="136.2" r="3.65" fill="#6FB2DE"/>
<circle cx="564.5" cy="141.0" r="3.65" fill="#5BBCA9"/>
<circle cx="563.3" cy="145.2" r="3.65" fill="#5BBCA9"/>
<circle cx="541.6" cy="149.4" r="3.65" fill="#BBA34A"/>
<circle cx="544.6" cy="154.2" r="3.65" fill="#5BBCA9"/>
<circle cx="533.8" cy="159.0" r="3.65" fill="#6CC551"/>
<circle cx="531.4" cy="162.6" r="3.65" fill="#6FB2DE"/>
<circle cx="535.0" cy="163.8" r="3.65" fill="#5BBCA9"/>
<circle cx="553.7" cy="155.4" r="3.65" fill="#E8698C"/>
<circle cx="555.5" cy="160.2" r="3.65" fill="#5BBCA9"/>
<circle cx="552.5" cy="162.0" r="3.65" fill="#6FB2DE"/>
<circle cx="548.8" cy="162.4" r="3.65" fill="#6CC551"/>
<circle cx="545.8" cy="165.6" r="3.65" fill="#5BBCA9"/>
<circle cx="570.1" cy="156.4" r="3.65" fill="#6FB2DE"/>
<circle cx="567.4" cy="162.7" r="3.65" fill="#5BBCA9"/>
<circle cx="584.2" cy="155.3" r="3.65" fill="#5BBCA9"/>
<circle cx="601.6" cy="161.6" r="3.65" fill="#5BBCA9"/>
<circle cx="605.2" cy="162.1" r="3.65" fill="#E8698C"/>
<circle cx="582.3" cy="145.0" r="3.65" fill="#BBA34A"/>
<circle cx="587.1" cy="145.5" r="3.65" fill="#5BBCA9"/>
<circle cx="590.7" cy="145.5" r="3.65" fill="#6FB2DE"/>
<circle cx="504.0" cy="158.8" r="3.65" fill="#BBA34A"/>
<circle cx="509.6" cy="159.4" r="3.65" fill="#E8698C"/>
<circle cx="502.4" cy="163.0" r="3.65" fill="#E8698C"/>
<circle cx="502.4" cy="175.6" r="3.65" fill="#6FB2DE"/>
<circle cx="509.6" cy="179.6" r="3.65" fill="#BBA34A"/>
<circle cx="503.0" cy="184.0" r="3.65" fill="#6CC551"/>
<circle cx="531.8" cy="174.0" r="3.65" fill="#5BBCA9"/>
<circle cx="409.5" cy="197.3" r="3.65" fill="#6CC551"/>
<circle cx="421.7" cy="199.2" r="3.65" fill="#6CC551"/>
<circle cx="439.4" cy="211.8" r="3.65" fill="#6CC551"/>
<circle cx="440.6" cy="220.4" r="3.65" fill="#6CC551"/>
<circle cx="456.0" cy="202.3" r="3.65" fill="#6CC551"/>
<circle cx="445.5" cy="207.0" r="3.65" fill="#6CC551"/>
<circle cx="462.4" cy="207.0" r="3.65" fill="#6CC551"/>
<circle cx="451.1" cy="211.8" r="3.65" fill="#BBA34A"/>
<circle cx="461.0" cy="219.9" r="3.65" fill="#6CC551"/>
<circle cx="480.6" cy="211.1" r="3.65" fill="#6CC551"/>
<circle cx="510.5" cy="195.1" r="3.65" fill="#5BBCA9"/>
<circle cx="501.9" cy="206.4" r="3.65" fill="#BBA34A"/>
<circle cx="486.1" cy="213.1" r="3.65" fill="#BBA34A"/>
<circle cx="506.8" cy="218.1" r="3.65" fill="#E8698C"/>
<circle cx="494.9" cy="221.2" r="3.65" fill="#5BBCA9"/>
<circle cx="434.2" cy="246.0" r="3.65" fill="#6CC551"/>
<circle cx="416.9" cy="255.4" r="3.65" fill="#6CC551"/>
<circle cx="535.2" cy="191.0" r="3.65" fill="#5BBCA9"/>
<circle cx="537.8" cy="188.3" r="3.65" fill="#6CC551"/>
<circle cx="542.3" cy="194.8" r="3.65" fill="#E8698C"/>
<circle cx="531.0" cy="209.3" r="3.65" fill="#5BBCA9"/>
<circle cx="584.8" cy="194.6" r="3.65" fill="#E8698C"/>
<circle cx="538.8" cy="101.5" r="3.65" fill="#6CC551"/>
<circle cx="542.1" cy="106.8" r="3.65" fill="#5BBCA9"/>
<circle cx="526.3" cy="112.5" r="3.65" fill="#6CC551"/>
<circle cx="543.1" cy="114.4" r="3.65" fill="#6CC551"/>
<circle cx="548.4" cy="106.3" r="3.65" fill="#6CC551"/>
<circle cx="585.2" cy="72.2" r="3.65" fill="#BBA34A"/>
<circle cx="588.2" cy="75.8" r="3.65" fill="#5BBCA9"/>
<circle cx="595.3" cy="68.8" r="3.65" fill="#5BBCA9"/>
<circle cx="591.8" cy="78.2" r="3.65" fill="#6FB2DE"/>
<circle cx="593.0" cy="83.0" r="3.65" fill="#6FB2DE"/>
<circle cx="611.6" cy="77.0" r="3.65" fill="#6FB2DE"/>
<circle cx="616.5" cy="78.8" r="3.65" fill="#6FB2DE"/>
<circle cx="601.4" cy="86.6" r="3.65" fill="#6FB2DE"/>
<circle cx="605.0" cy="86.0" r="3.65" fill="#6FB2DE"/>
<circle cx="585.2" cy="92.0" r="3.65" fill="#6FB2DE"/>
<circle cx="581.6" cy="97.4" r="3.65" fill="#5BBCA9"/>
<circle cx="585.2" cy="98.6" r="3.65" fill="#BBA34A"/>
<circle cx="591.2" cy="96.8" r="3.65" fill="#6FB2DE"/>
<circle cx="591.8" cy="101.0" r="3.65" fill="#5BBCA9"/>
<circle cx="600.2" cy="93.8" r="3.65" fill="#6FB2DE"/>
<circle cx="602.6" cy="96.8" r="3.65" fill="#6FB2DE"/>
<circle cx="606.8" cy="89.6" r="3.65" fill="#6FB2DE"/>
<circle cx="608.6" cy="93.2" r="3.65" fill="#6FB2DE"/>
<circle cx="612.9" cy="90.8" r="3.65" fill="#6FB2DE"/>
<circle cx="615.3" cy="92.6" r="3.65" fill="#6FB2DE"/>
<circle cx="621.3" cy="90.8" r="3.65" fill="#5BBCA9"/>
<circle cx="599.0" cy="100.5" r="3.65" fill="#6FB2DE"/>
<circle cx="622.6" cy="41.7" r="3.65" fill="#6FB2DE"/>
<circle cx="615.5" cy="45.5" r="3.65" fill="#6FB2DE"/>
<circle cx="591.9" cy="44.6" r="3.65" fill="#6FB2DE"/>
<circle cx="587.1" cy="51.2" r="3.65" fill="#6FB2DE"/>
<circle cx="595.7" cy="50.0" r="3.65" fill="#6FB2DE"/>
<circle cx="605.6" cy="52.7" r="3.65" fill="#6FB2DE"/>
<circle cx="619.0" cy="48.3" r="3.65" fill="#6FB2DE"/>
<circle cx="615.5" cy="53.0" r="3.65" fill="#6FB2DE"/>
<circle cx="625.3" cy="51.2" r="3.65" fill="#6FB2DE"/>
<circle cx="597.5" cy="56.8" r="3.65" fill="#6FB2DE"/>
<circle cx="622.6" cy="64.8" r="3.65" fill="#6FB2DE"/>
<circle cx="450.5" cy="188.0" r="3.65" fill="#6CC551"/>
<path d="M409.50,208.85 L416.04,204.66 L422.57,200.47 L429.11,196.29 L435.64,192.10 L442.18,187.91 L448.71,183.72 L455.25,179.52 L461.78,175.33 L468.31,171.13 L474.85,166.93 L481.38,162.72 L487.92,158.51 L494.45,154.30 L500.99,150.07 L507.52,145.84 L514.06,141.60 L520.60,137.34 L527.13,133.05 L533.66,128.74 L540.20,124.39 L546.74,119.98 L553.27,115.51 L559.81,110.96 L566.34,106.33 L572.88,101.62 L579.41,96.86 L585.94,92.04 L592.48,87.18 L599.01,82.30 L605.55,77.40 L612.09,72.48 L618.62,67.55 L625.15,62.61 L631.69,57.66 L638.23,52.71 L644.76,47.76 L651.29,42.80 L657.83,37.83 L664.37,32.87 L670.90,27.90 L670.90,42.30 L664.37,46.49 L657.83,50.69 L651.29,54.88 L644.76,59.08 L638.23,63.29 L631.69,67.50 L625.15,71.71 L618.62,75.93 L612.09,80.16 L605.55,84.40 L599.01,88.66 L592.48,92.94 L585.94,97.24 L579.41,101.58 L572.88,105.98 L566.34,110.43 L559.81,114.96 L553.27,119.57 L546.74,124.26 L540.20,129.01 L533.66,133.82 L527.13,138.67 L520.60,143.54 L514.06,148.44 L507.52,153.36 L500.99,158.29 L494.45,163.22 L487.92,168.17 L481.38,173.12 L474.85,178.07 L468.31,183.03 L461.78,187.99 L455.25,192.96 L448.71,197.92 L442.18,202.89 L435.64,207.86 L429.11,212.83 L422.57,217.81 L416.04,222.78 L409.50,227.75 Z" fill="#999" fill-opacity="0.4"/>
<line x1="410.9" y1="217.3" x2="669.6" y2="36.0" stroke="#3366FF" stroke-width="2.6" stroke-linecap="round"/>
<path d="M396.5,1.5 H683.5 V267.5 H396.5 Z" fill="none" stroke="#474747" stroke-width="1.3"/>
<rect x="396" y="0" width="289" height="1" fill="#d4d4d4"/>
<rect x="684" y="0" width="1" height="268" fill="#b0b0b0"/>
<rect x="416.9" y="0" width="1" height="2" fill="#d8d8d8"/>
<rect x="445.1" y="0" width="1" height="2" fill="#d8d8d8"/>
<rect x="473.4" y="0" width="1" height="2" fill="#d8d8d8"/>
<rect x="501.7" y="0" width="1" height="2" fill="#d8d8d8"/>
<rect x="529.9" y="0" width="1" height="2" fill="#d8d8d8"/>
<rect x="558.2" y="0" width="1" height="2" fill="#d8d8d8"/>
<rect x="586.5" y="0" width="1" height="2" fill="#d8d8d8"/>
<rect x="614.7" y="0" width="1" height="2" fill="#d8d8d8"/>
<rect x="643.0" y="0" width="1" height="2" fill="#d8d8d8"/>
<rect x="671.2" y="0" width="1" height="2" fill="#d8d8d8"/>
<line x1="393.3" y1="20.3" x2="396.5" y2="20.3" stroke="#333" stroke-width="1"/>
<text x="388.5" y="22.0" text-anchor="end" font-size="14" style="font-family:'Liberation Serif',serif" fill="#111">10</text>
<line x1="393.3" y1="71.3" x2="396.5" y2="71.3" stroke="#333" stroke-width="1"/>
<text x="388.5" y="73.0" text-anchor="end" font-size="14" style="font-family:'Liberation Serif',serif" fill="#111">9</text>
<line x1="393.3" y1="122.3" x2="396.5" y2="122.3" stroke="#333" stroke-width="1"/>
<text x="388.5" y="124.0" text-anchor="end" font-size="14" style="font-family:'Liberation Serif',serif" fill="#111">8</text>
<line x1="393.3" y1="173.3" x2="396.5" y2="173.3" stroke="#333" stroke-width="1"/>
<text x="388.5" y="175.0" text-anchor="end" font-size="14" style="font-family:'Liberation Serif',serif" fill="#111">7</text>
<line x1="393.3" y1="224.3" x2="396.5" y2="224.3" stroke="#333" stroke-width="1"/>
<text x="388.5" y="226.0" text-anchor="end" font-size="14" style="font-family:'Liberation Serif',serif" fill="#111">6</text>
<line x1="445.6" y1="267.5" x2="445.6" y2="270.5" stroke="#333" stroke-width="1"/>
<text x="445.6" y="283.5" text-anchor="middle" font-size="14" style="font-family:'Liberation Serif',serif" fill="#111">1</text>
<line x1="502.2" y1="267.5" x2="502.2" y2="270.5" stroke="#333" stroke-width="1"/>
<text x="502.2" y="283.5" text-anchor="middle" font-size="14" style="font-family:'Liberation Serif',serif" fill="#111">2</text>
<line x1="558.7" y1="267.5" x2="558.7" y2="270.5" stroke="#333" stroke-width="1"/>
<text x="558.7" y="283.5" text-anchor="middle" font-size="14" style="font-family:'Liberation Serif',serif" fill="#111">3</text>
<line x1="615.2" y1="267.5" x2="615.2" y2="270.5" stroke="#333" stroke-width="1"/>
<text x="615.2" y="283.5" text-anchor="middle" font-size="14" style="font-family:'Liberation Serif',serif" fill="#111">4</text>
<line x1="671.7" y1="267.5" x2="671.7" y2="270.5" stroke="#333" stroke-width="1"/>
<text x="671.7" y="283.5" text-anchor="middle" font-size="14" style="font-family:'Liberation Serif',serif" fill="#111">5</text>
<text x="556.8" y="300.7" text-anchor="middle" font-size="15.1" style="font-family:'Liberation Serif',serif" fill="#111">LN SOC (g·kg<tspan font-size="10.5" dy="-4.2">-1</tspan><tspan dy="4.2">)</tspan></text>
<text transform="translate(361.2,137.2) rotate(-90)" text-anchor="middle" font-size="15.1" style="font-family:'Liberation Serif',serif" fill="#111">LN PDC (mg·kg<tspan font-size="10.5" dy="-4.2">-1</tspan><tspan dy="4.2">)</tspan></text>
<text x="602.1" y="255" font-size="15.1" style="font-family:'Liberation Serif',serif" fill="#111">R<tspan font-size="9.8" dy="-4">2</tspan><tspan dy="4">=0.59***</tspan></text>
</g>
<rect x="333" y="69.5" width="1" height="1" fill="#d0d0d0"/>
<rect x="333" y="147.5" width="1" height="1" fill="#d0d0d0"/>
<rect x="333" y="225.5" width="1" height="1" fill="#d0d0d0"/>
<rect x="333" y="30.5" width="1" height="1" fill="#d0d0d0"/>
<rect x="333" y="108.5" width="1" height="1" fill="#d0d0d0"/>
<rect x="333" y="186.5" width="1" height="1" fill="#d0d0d0"/>
<rect x="48" y="30.5" width="1" height="1" fill="#d0d0d0"/>
<rect x="48" y="108.5" width="1" height="1" fill="#d0d0d0"/>
<rect x="48" y="186.5" width="1" height="1" fill="#d0d0d0"/>
<rect x="68.8" y="267" width="1" height="1" fill="#d0d0d0"/>
<rect x="124.8" y="267" width="1" height="1" fill="#d0d0d0"/>
<rect x="180.9" y="267" width="1" height="1" fill="#d0d0d0"/>
<rect x="236.9" y="267" width="1" height="1" fill="#d0d0d0"/>
<rect x="293.0" y="267" width="1" height="1" fill="#d0d0d0"/>
<rect x="683" y="19.8" width="1" height="1" fill="#d0d0d0"/>
<rect x="683" y="70.8" width="1" height="1" fill="#d0d0d0"/>
<rect x="683" y="121.8" width="1" height="1" fill="#d0d0d0"/>
<rect x="683" y="172.8" width="1" height="1" fill="#d0d0d0"/>
<rect x="683" y="223.8" width="1" height="1" fill="#d0d0d0"/>
<rect x="683" y="45.3" width="1" height="1" fill="#d0d0d0"/>
<rect x="683" y="96.3" width="1" height="1" fill="#d0d0d0"/>
<rect x="683" y="147.3" width="1" height="1" fill="#d0d0d0"/>
<rect x="683" y="198.3" width="1" height="1" fill="#d0d0d0"/>
<rect x="683" y="249.3" width="1" height="1" fill="#d0d0d0"/>
<rect x="396" y="45.3" width="1" height="1" fill="#d0d0d0"/>
<rect x="396" y="96.3" width="1" height="1" fill="#d0d0d0"/>
<rect x="396" y="147.3" width="1" height="1" fill="#d0d0d0"/>
<rect x="396" y="198.3" width="1" height="1" fill="#d0d0d0"/>
<rect x="396" y="249.3" width="1" height="1" fill="#d0d0d0"/>
<rect x="416.9" y="267" width="1" height="1" fill="#d0d0d0"/>
<rect x="473.4" y="267" width="1" height="1" fill="#d0d0d0"/>
<rect x="529.9" y="267" width="1" height="1" fill="#d0d0d0"/>
<rect x="586.5" y="267" width="1" height="1" fill="#d0d0d0"/>
<rect x="643.0" y="267" width="1" height="1" fill="#d0d0d0"/>
<circle cx="219.3" cy="325.1" r="3.65" fill="#E8698C"/>
<text x="227.6" y="329.2" font-size="13" style="font-family:'Liberation Serif',serif" fill="#111">Forest</text>
<circle cx="273.6" cy="325.1" r="3.65" fill="#BBA34A"/>
<text x="282" y="329.2" font-size="13" style="font-family:'Liberation Serif',serif" fill="#111">Wetland</text>
<circle cx="341.3" cy="325.1" r="3.65" fill="#5BBCA9"/>
<text x="349.9" y="329.2" font-size="13" style="font-family:'Liberation Serif',serif" fill="#111">Grassland</text>
<circle cx="417.5" cy="325.1" r="3.65" fill="#6FB2DE"/>
<text x="426.1" y="329.2" font-size="13" style="font-family:'Liberation Serif',serif" fill="#111">Cropland</text>
<circle cx="489.6" cy="325.1" r="3.65" fill="#6CC551"/>
<text x="497.5" y="329.2" font-size="13" style="font-family:'Liberation Serif',serif" fill="#111">Desert</text>
</svg>
</body></html>
